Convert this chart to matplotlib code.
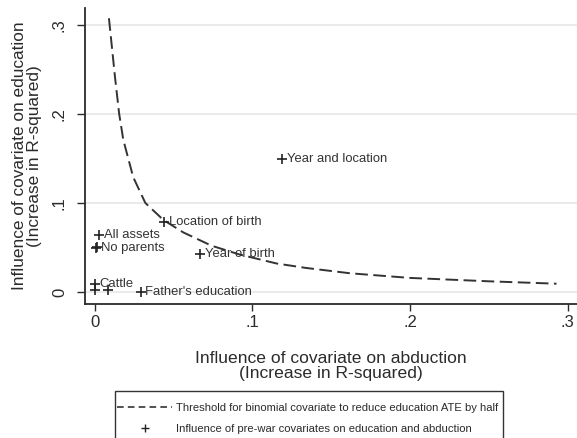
import matplotlib
matplotlib.use("Agg")
import matplotlib.pyplot as plt
from matplotlib.lines import Line2D
from matplotlib.patches import Rectangle

plt.rcParams['font.family'] = ['Liberation Sans', 'DejaVu Sans']

# Threshold curve
thr_x = [0.0089, 0.0127, 0.0154, 0.018, 0.0243, 0.032, 0.0434, 0.056, 0.074,
         0.092, 0.1153, 0.134, 0.162, 0.2, 0.25, 0.293]
thr_y = [0.3075, 0.242, 0.2, 0.171, 0.129, 0.1, 0.081, 0.067, 0.052,
         0.042, 0.032, 0.027, 0.021, 0.0158, 0.012, 0.0093]

# Covariate points
pt_labels = ["Year and location", "Location of birth", "Year of birth", "All assets",
             "No parents", "", "Cattle", "", "", "Father's education"]
pt_x = [0.119, 0.044, 0.0667, 0.0025, 0.0008, 0.0012, 0.0, 0.0, 0.0085, 0.029]
pt_y = [0.149, 0.079, 0.0427, 0.064, 0.0494, 0.051, 0.009, 0.002, 0.002, 0.0]

x_ticks = [0, 0.1, 0.2, 0.3]
x_ticklabels = ["0", ".1", ".2", ".3"]
y_ticks = [0, 0.1, 0.2, 0.3]
y_ticklabels = ["0", ".1", ".2", ".3"]

W, H = 577, 438
fig = plt.figure(figsize=(W / 100, H / 100), dpi=100)
ax = fig.add_axes([85 / W, 1 - 304 / H, (577 - 85) / W, (304 - 8) / H])

dark = "#2b2b2b"
ax.set_xlim(-0.0063, 0.306)
ax.set_ylim(-0.0135, 0.319)

for y in y_ticks:
    ax.axhline(y, color="#e6e6e6", lw=1.2, zorder=0)

ax.plot(thr_x, thr_y, color="#333333", lw=1.4, ls=(0, (6.5, 2.8)), zorder=2)
ax.plot(pt_x, pt_y, ls="none", marker="+", ms=7, mew=1.2, color="#222222", zorder=3)
for lab, x, y in zip(pt_labels, pt_x, pt_y):
    if lab:
        ax.annotate(lab, (x, y), xytext=(3.5, 0), textcoords="offset points",
                    ha="left", va="center", fontsize=9.4, color="#333333")

for s in ["top", "right"]:
    ax.spines[s].set_visible(False)
for s in ["left", "bottom"]:
    ax.spines[s].set_color(dark)
    ax.spines[s].set_linewidth(1.3)

ax.set_xticks(x_ticks)
ax.set_xticklabels(x_ticklabels, fontsize=12, color=dark)
ax.set_yticks(y_ticks)
ax.set_yticklabels(y_ticklabels, fontsize=12, color=dark, rotation=90, va="center")
ax.tick_params(axis="x", length=5, width=1.0, color=dark, direction="out", pad=3)
ax.tick_params(axis="y", length=6, width=1.0, color=dark, direction="out", pad=7)

ax.set_xlabel("Influence of covariate on abduction\n(Increase in R-squared)",
              fontsize=12.6, color=dark, labelpad=15, linespacing=1.03)
ax.set_ylabel("Influence of covariate on education\n(Increase in R-squared)",
              fontsize=12.4, color=dark, labelpad=7, linespacing=0.98)

# legend frame (extends past the bottom edge as in the reference)
fig.patches.append(Rectangle((115 / W, 1 - 445 / H), (503 - 115) / W, (445 - 391) / H,
                             transform=fig.transFigure, fill=False,
                             edgecolor="#333333", lw=1.0))
handles = [Line2D([], [], color="#333333", lw=1.2, ls=(0, (4, 2.5))),
           Line2D([], [], ls="none", marker="+", ms=6, mew=1.0, color="#222222")]
labels = ["Threshold for binomial covariate to reduce education ATE by half",
          "Influence of pre-war covariates on education and abduction"]
leg = fig.legend(handles, labels, loc="upper left",
                 bbox_to_anchor=(117 / W, 1 - 403 / H), fontsize=8.1,
                 frameon=False, handlelength=4.9, handletextpad=0.3,
                 borderpad=0, labelspacing=0.95, borderaxespad=0)
for t in leg.get_texts():
    t.set_color(dark)

fig.savefig("out.png", dpi=100)
